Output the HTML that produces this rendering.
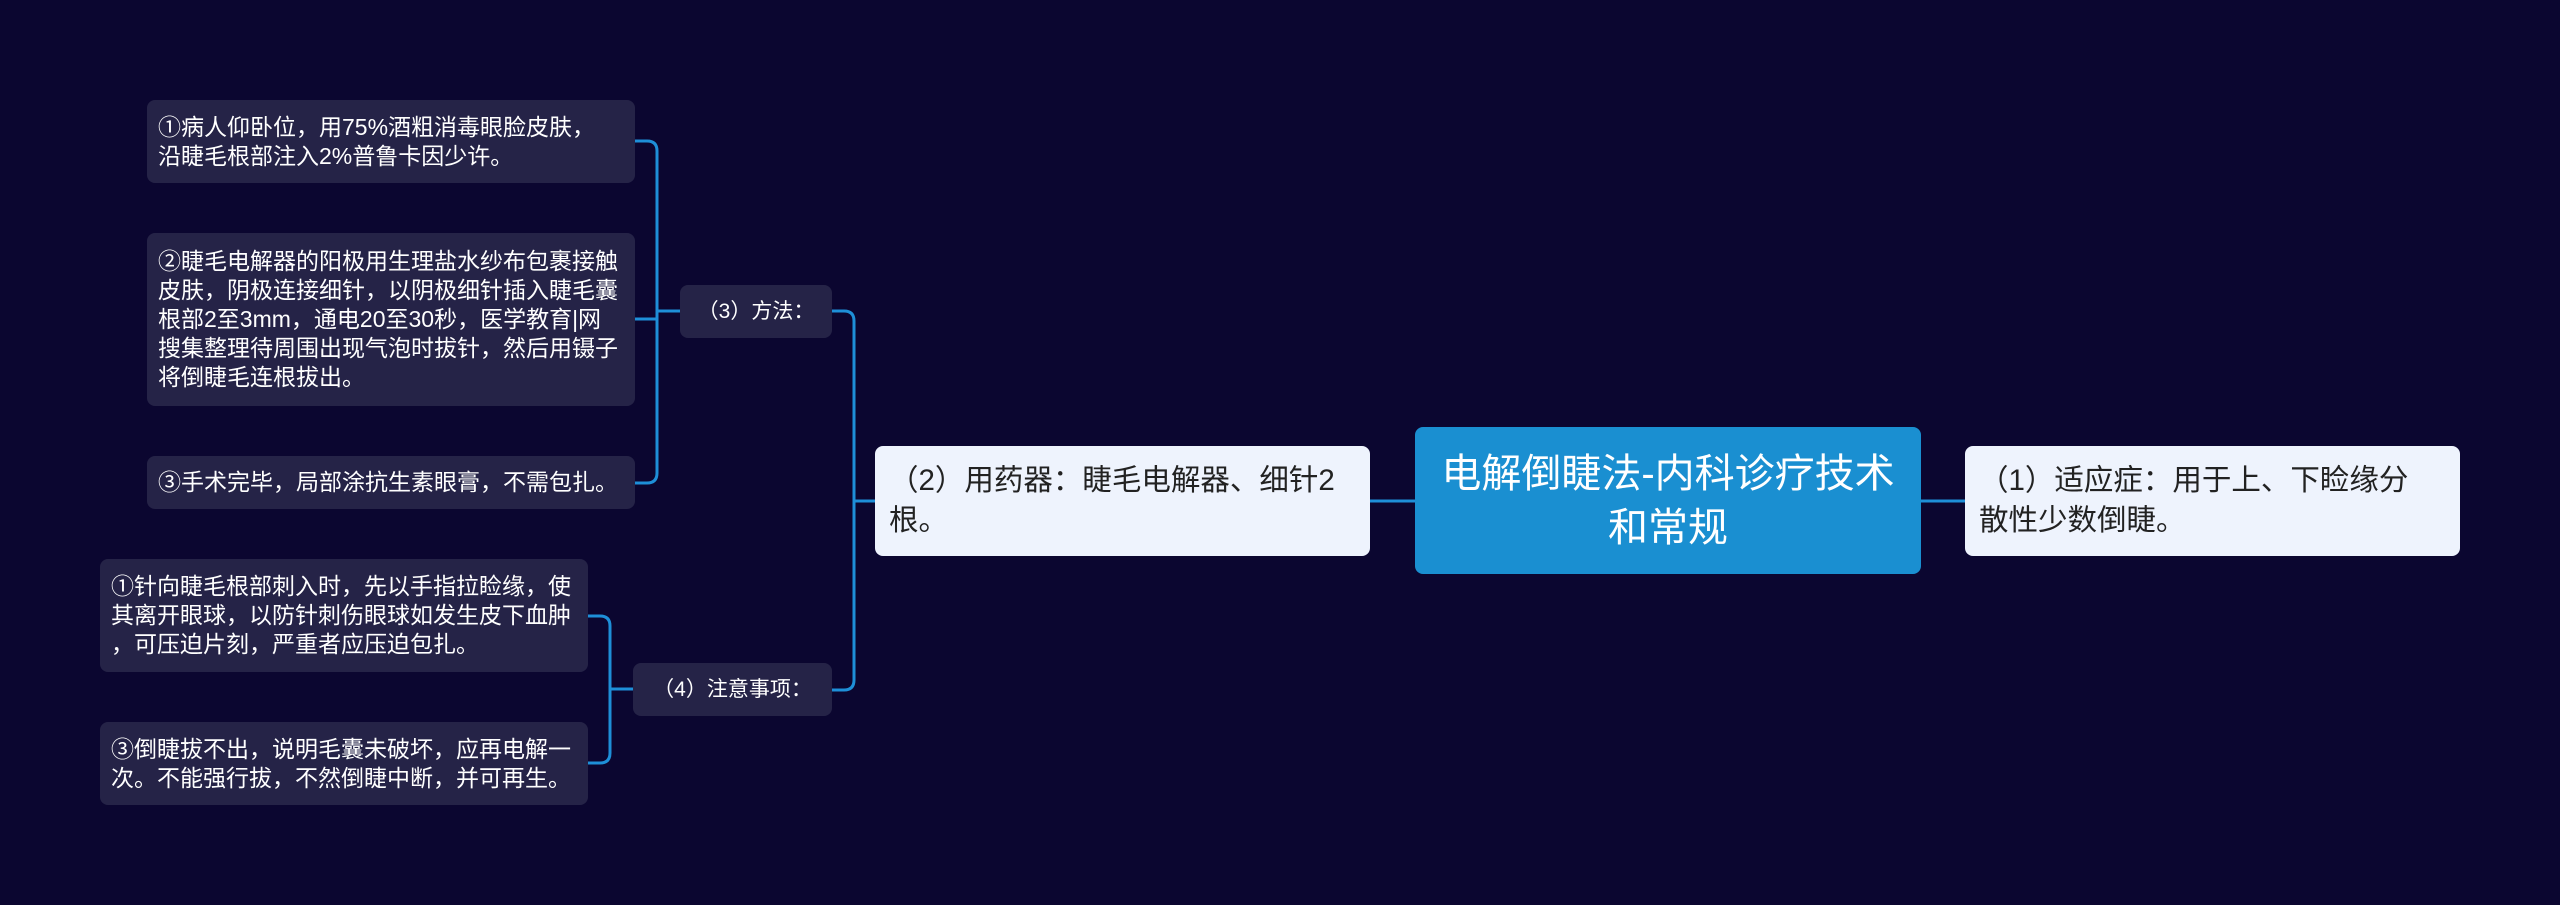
<!DOCTYPE html>
<html><head><meta charset="utf-8"><style>
body{margin:0;width:2560px;height:905px;background:#0b0630;position:relative;overflow:hidden;font-family:"Liberation Sans","Noto Sans CJK SC",sans-serif}
.n{position:absolute;box-sizing:border-box;border-radius:8px;}
.s{background:#252347;color:#fff;font-size:23px;line-height:29px;padding:0 11px;display:flex;align-items:center;white-space:nowrap}
.l{background:#eef3fd;color:#222;font-size:29.5px;line-height:40px;padding:0 14px;display:flex;align-items:center;white-space:nowrap}
</style></head><body>
<svg width="2560" height="905" style="position:absolute;left:0;top:0" fill="none" stroke="#1e8fd8" stroke-width="3">
<path d="M1370 501H1415M1921 501H1965"/>
<path d="M875 501H854M832 311H844Q854 311 854 321V680Q854 690 844 690H832"/>
<path d="M680 311H657M635 141H647Q657 141 657 151V473Q657 483 647 483H635M635 319H657"/>
<path d="M633 689H610M588 616H600Q610 616 610 626V753Q610 763 600 763H588"/>
</svg>
<div class="n s" style="left:147px;top:100px;width:488px;height:83px">①病人仰卧位，用75%酒粗消毒眼脸皮肤，<br>沿睫毛根部注入2%普鲁卡因少许。</div>
<div class="n s" style="left:147px;top:233px;width:488px;height:173px">②睫毛电解器的阳极用生理盐水纱布包裹接触<br>皮肤，阴极连接细针，以阴极细针插入睫毛囊<br>根部2至3mm，通电20至30秒，医学教育|网<br>搜集整理待周围出现气泡时拔针，然后用镊子<br>将倒睫毛连根拔出。</div>
<div class="n s" style="left:147px;top:456px;width:488px;height:53px">③手术完毕，局部涂抗生素眼膏，不需包扎。</div>
<div class="n s" style="left:680px;top:285px;width:152px;height:53px;justify-content:center;font-size:21px">（3）方法：</div>
<div class="n s" style="left:100px;top:559px;width:488px;height:113px">①针向睫毛根部刺入时，先以手指拉睑缘，使<br>其离开眼球，以防针刺伤眼球如发生皮下血肿<br>，可压迫片刻，严重者应压迫包扎。</div>
<div class="n s" style="left:100px;top:722px;width:488px;height:83px">③倒睫拔不出，说明毛囊未破坏，应再电解一<br>次。不能强行拔，不然倒睫中断，并可再生。</div>
<div class="n s" style="left:633px;top:663px;width:199px;height:53px;justify-content:center;font-size:21px">（4）注意事项：</div>
<div class="n l" style="left:875px;top:446px;width:495px;height:110px">（2）用药器：睫毛电解器、细针2<br>根。</div>
<div class="n" style="left:1415px;top:427px;width:506px;height:147px;background:#1a8fd1;color:#fff;font-size:40px;line-height:54px;display:flex;align-items:center;justify-content:center;text-align:center;padding:0 10px;white-space:nowrap">电解倒睫法-内科诊疗技术<br>和常规</div>
<div class="n l" style="left:1965px;top:446px;width:495px;height:110px">（1）适应症：用于上、下睑缘分<br>散性少数倒睫。</div>
</body></html>
